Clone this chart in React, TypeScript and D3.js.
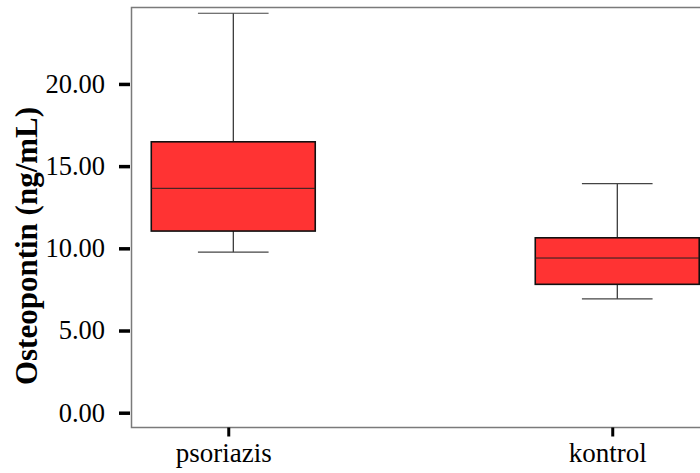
import React, { useRef, useEffect } from "react";
import * as d3 from "d3";

// box plot summary
const groups = ["psoriazis", "kontrol"];
const whiskerHigh = [24.3, 13.93];
const q3 = [16.48, 10.64];
const medians = [13.65, 9.41];
const q1 = [11.05, 7.81];
const whiskerLow = [9.77, 6.92];
const yTicks = [0, 5, 10, 15, 20];

const W = 700;
const H = 473;

const App = () => {
  const svgRef = useRef<SVGSVGElement>(null);

  useEffect(() => {
    const svg = d3.select(svgRef.current);
    svg.selectAll("*").remove();

    const frame = { left: 131.5, right: 719, top: 7.5, bottom: 427.5 };
    const serif = "'Liberation Serif', 'Times New Roman', serif";

    const x = d3
      .scalePoint()
      .domain(groups)
      .range([frame.left, frame.right])
      .padding(0.265);

    const y = d3
      .scaleLinear()
      .domain([-0.9, 24.65])
      .range([frame.bottom, frame.top]);

    const data = groups.map((g, i) => ({
      g,
      hi: whiskerHigh[i],
      q3: q3[i],
      med: medians[i],
      q1: q1[i],
      lo: whiskerLow[i],
    }));

    const boxW = x.step() * 0.427;
    const capW = x.step() * 0.184;

    // frame
    svg
      .append("rect")
      .attr("x", frame.left)
      .attr("y", frame.top)
      .attr("width", frame.right - frame.left)
      .attr("height", frame.bottom - frame.top)
      .attr("fill", "white")
      .attr("stroke", "#7a7a7a")
      .attr("stroke-width", 1.5);

    const box = svg
      .selectAll(".box")
      .data(data)
      .enter()
      .append("g")
      .attr("class", "box")
      .attr("transform", (d) => `translate(${x(d.g)},0)`);

    // whiskers
    box
      .append("line")
      .attr("x1", 0)
      .attr("x2", 0)
      .attr("y1", (d) => y(d.hi))
      .attr("y2", (d) => y(d.lo))
      .attr("stroke", "#000")
      .attr("stroke-width", 1);

    box
      .selectAll(".cap")
      .data((d) => [d.hi, d.lo])
      .enter()
      .append("line")
      .attr("x1", -capW / 2)
      .attr("x2", capW / 2)
      .attr("y1", (v) => y(v))
      .attr("y2", (v) => y(v))
      .attr("stroke", "#444")
      .attr("stroke-width", 1.2);

    box
      .append("rect")
      .attr("x", -boxW / 2)
      .attr("width", boxW)
      .attr("y", (d) => y(d.q3))
      .attr("height", (d) => y(d.q1) - y(d.q3))
      .attr("fill", "#ff3333")
      .attr("stroke", "#111")
      .attr("stroke-width", 1.6);

    box
      .append("line")
      .attr("x1", -boxW / 2)
      .attr("x2", boxW / 2)
      .attr("y1", (d) => y(d.med))
      .attr("y2", (d) => y(d.med))
      .attr("stroke", "#222")
      .attr("stroke-width", 1);

    // y axis
    const yAxis = svg
      .append("g")
      .attr("transform", `translate(${frame.left - 1.5},0)`)
      .call(
        d3
          .axisLeft(y)
          .tickValues(yTicks)
          .tickSize(11)
          .tickPadding(14)
          .tickFormat(d3.format(".2f"))
      );
    yAxis.select(".domain").remove();
    yAxis.selectAll("line").attr("stroke", "#000").attr("stroke-width", 3.5);
    yAxis
      .selectAll("text")
      .attr("fill", "#000")
      .style("font-family", serif)
      .style("font-size", "26.5px");

    // x axis
    const xAxis = svg
      .append("g")
      .attr("transform", `translate(-5,${frame.bottom})`)
      .call(d3.axisBottom(x).tickSize(9).tickPadding(6));
    xAxis.select(".domain").remove();
    xAxis.selectAll("line").attr("stroke", "#000").attr("stroke-width", 3);
    xAxis
      .selectAll("text")
      .attr("fill", "#000")
      .attr("dx", -5)
      .style("font-family", serif)
      .style("font-size", "27px");

    // y title
    svg
      .append("text")
      .attr("transform", `translate(37,${(112 + 380) / 2}) rotate(-90)`)
      .attr("text-anchor", "middle")
      .style("font-family", serif)
      .style("font-weight", "bold")
      .style("font-size", "31px")
      .attr("fill", "#000")
      .text("Osteopontin (ng/mL)");
  }, []);

  return (
    <svg
      ref={svgRef}
      width={W}
      height={H}
      style={{ position: "absolute", left: 0, top: 0, background: "white" }}
    ></svg>
  );
};

export default App;
